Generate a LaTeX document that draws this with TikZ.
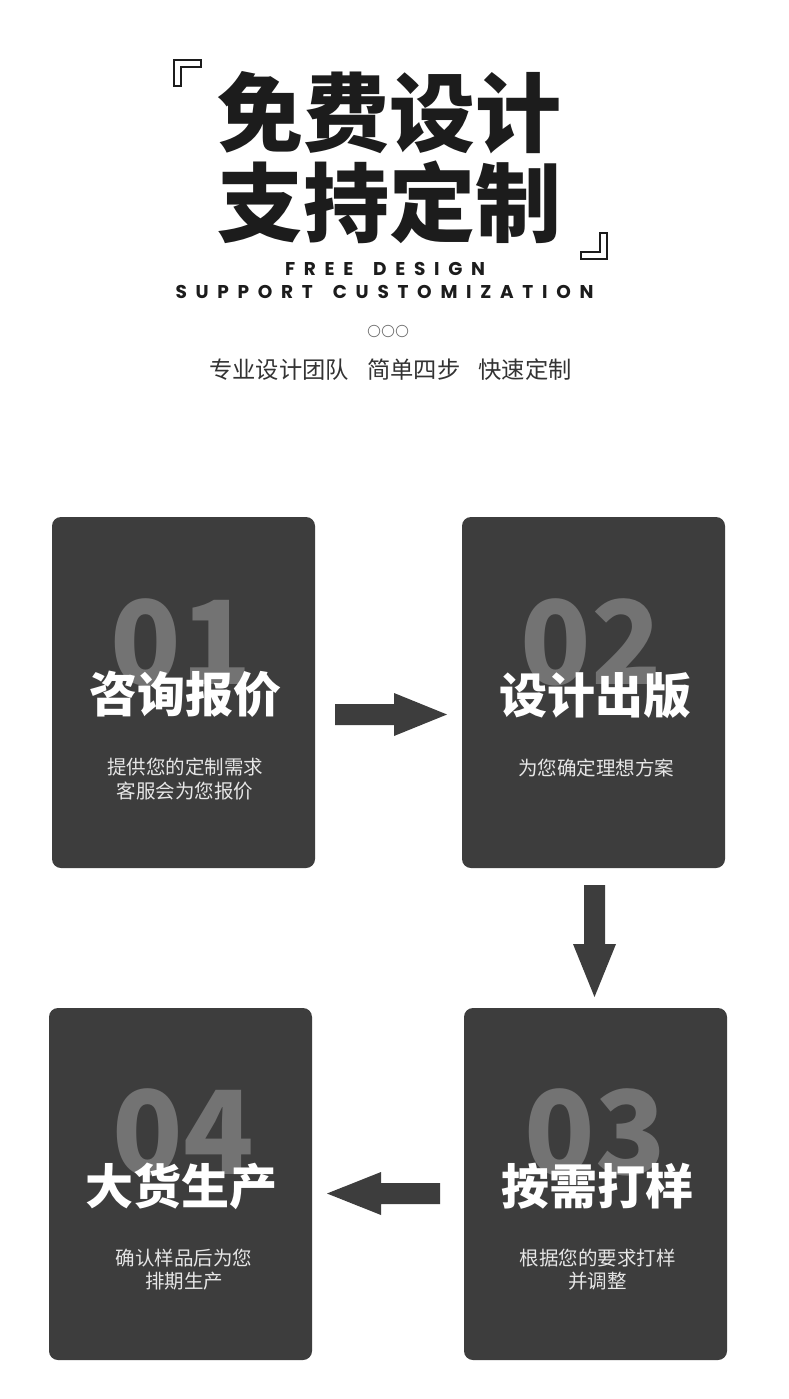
\documentclass[tikz,border=0pt]{standalone}
\usepackage{fontspec}
\setmainfont{Poppins}
\newfontfamily\cjk{Noto Sans CJK SC}
\definecolor{cardc}{HTML}{3D3D3D}
\definecolor{numc}{HTML}{737373}
\definecolor{subc}{HTML}{E6E6E6}
\definecolor{inkc}{HTML}{1C1C1C}
\definecolor{greyc}{HTML}{333333}
\definecolor{ringc}{HTML}{808080}
\tikzset{
  cardbox/.style={fill=cardc, rounded corners=9pt, minimum width=263pt, minimum height=351pt, inner sep=0pt},
  numtext/.style={text=numc, font=\cjk\bfseries\fontsize{116}{116}\selectfont, inner sep=0pt},
  ttltext/.style={text=white, font=\cjk\bfseries\fontsize{48}{48}\selectfont, inner sep=0pt},
  subtext/.style={text=subc, font=\cjk\fontsize{19.5}{23.5}\selectfont, align=center, inner sep=0pt},
  headtext/.style={text=inkc, font=\cjk\bfseries\fontsize{86}{86}\selectfont, inner sep=0pt},
  entext/.style={text=inkc, font=\bfseries\fontsize{18.5}{18.5}\selectfont, inner sep=0pt},
  blockarrow/.style={fill=cardc},
  bracketshape/.style={draw=inkc, fill=white, line width=1.1pt},
  ring/.style={circle, draw=ringc, line width=0.8pt, minimum size=11.5pt, inner sep=0pt},
}
\newcommand{\gl}{\hskip 0pt plus 1fil}
\newcommand{\gw}{\hskip 0pt plus 2.3fil}
\begin{document}
\begin{tikzpicture}[x=1pt,y=-1pt]
\useasboundingbox (0,0) rectangle (789,1399);
\fill[white] (0,0) rectangle (789,1399);

% corner brackets
\draw[bracketshape] (174,60) -- (201,60) -- (201,67) -- (181,67) -- (181,86) -- (174,86) -- cycle;
\draw[bracketshape] (607,259) -- (581,259) -- (581,252) -- (600,252) -- (600,233) -- (607,233) -- cycle;

% heading
\node[headtext] (h1) at (389,113) {免费设计};
\node[headtext] (h2) at (389,202.5) {支持定制};
\node[entext] (e1) at (385,268.5) {\makebox[200pt][s]{F\gl R\gl E\gl E\gw D\gl E\gl S\gl I\gl G\gl N}};
\node[entext] (e2) at (384.5,291.5) {\makebox[418pt][s]{S\gl U\gl P\gl P\gl O\gl R\gl T\gw C\gl U\gl S\gl T\gl O\gl M\gl I\gl Z\gl A\gl T\gl I\gl O\gl N}};

% rings
\node[ring] (o1) at (374,331) {};
\node[ring] (o2) at (388,331) {};
\node[ring] (o3) at (402,331) {};

\node[text=greyc, font=\cjk\fontsize{23.3}{23.3}\selectfont, inner sep=0pt] (tag) at (390.5,370) {专业设计团队\hspace{0.78em}简单四步\hspace{0.78em}快速定制};

% cards
\node[cardbox] (c1) at (183.5,692.5) {};
\node[cardbox] (c2) at (593.5,692.5) {};
\node[cardbox, minimum height=352pt] (c3) at (595.5,1184) {};
\node[cardbox, minimum height=352pt] (c4) at (180.5,1184) {};

\node[numtext] (n1) at (181,642.5) {01};
\node[numtext] (n2) at (591.5,642.5) {02};
\node[numtext] (n3) at (595,1132.5) {03};
\node[numtext] (n4) at (183,1132.5) {04};

\node[ttltext] (t1) at (185,694.5) {咨询报价};
\node[ttltext] (t2) at (595,695.5) {设计出版};
\node[ttltext] (t3) at (597.5,1186) {按需打样};
\node[ttltext] (t4) at (181.5,1186) {大货生产};

\node[subtext] (s1) at (185,779) {提供您的定制需求\\客服会为您报价};
\node[subtext] (s2) at (596,768) {为您确定理想方案};
\node[subtext] (s3) at (597.5,1269.5) {根据您的要求打样\\并调整};
\node[subtext] (s4) at (184,1269.5) {确认样品后为您\\排期生产};

% block arrows
\fill[blockarrow] (335,704) -- (394,704) -- (394,693) -- (447,714.5) -- (394,736) -- (394,725) -- (335,725) -- cycle;
\fill[blockarrow] (584,885) -- (605,885) -- (605,944) -- (616,944) -- (594.5,997) -- (573,944) -- (584,944) -- cycle;
\fill[blockarrow] (440,1183) -- (381,1183) -- (381,1172) -- (327,1193.5) -- (381,1215) -- (381,1204) -- (440,1204) -- cycle;
\end{tikzpicture}
\end{document}
